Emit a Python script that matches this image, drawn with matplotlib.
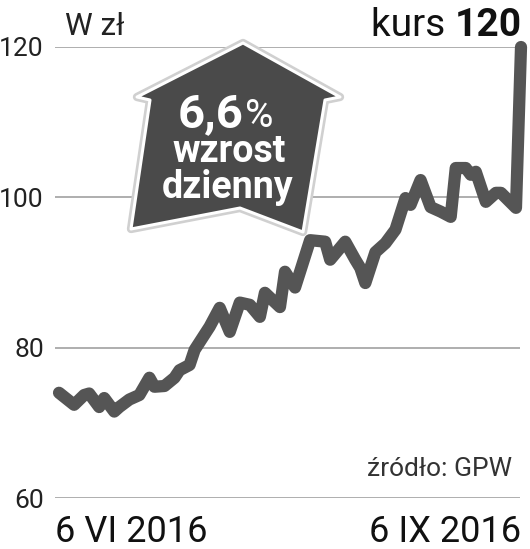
import matplotlib
matplotlib.use('Agg')
import matplotlib.pyplot as plt
from matplotlib.patches import Polygon

# kurs akcji, 6 VI - 6 IX 2016 (dni od 6 VI)
dni = [0, 3, 5, 6, 8, 9, 11, 12, 14, 16, 18, 19, 21, 23, 24, 26, 27, 30, 32,
       34, 36, 38, 40, 41, 44, 45, 47, 50, 53, 54, 57, 59, 60, 61, 63, 65, 67,
       69, 70, 72, 74, 76, 78, 79, 81, 82, 83, 85, 87, 88, 91, 92]
kurs = [74.0, 72.4, 73.7, 73.9, 72.1, 73.3, 71.5, 72.1, 73.1, 73.7, 76.0, 74.8,
        74.9, 76.0, 77.0, 77.7, 79.7, 82.8, 85.3, 82.1, 86.0, 85.7, 84.1, 87.3,
        85.4, 90.1, 88.0, 94.3, 94.1, 91.7, 94.1, 91.7, 90.6, 88.6, 92.7, 93.9,
        95.7, 99.9, 99.0, 102.3, 98.7, 98.1, 97.4, 103.9, 103.9, 103.0, 103.4,
        99.4, 100.6, 100.6, 98.6, 120.0]
yticks = [60, 80, 100, 120]

W, H = 530, 549
plt.rcParams['font.family'] = ['Roboto', 'DejaVu Sans']


def fx(px):
    return px / W


def fy(py):
    return 1 - py / H


fig = plt.figure(figsize=(5.30, 5.49), dpi=100)
ax = fig.add_axes([fx(55), fy(498), fx(520) - fx(55), fy(47) - fy(498)])
ax.set_xlim(-0.8, 91.8)
ax.set_ylim(60, 120)
for v in yticks:
    ax.axhline(v, color='#a8a8a8', lw=1.3, zorder=1)
ax.plot(dni, kurs, color='#555555', lw=8.8, solid_capstyle='round',
        solid_joinstyle='round', clip_on=False, zorder=3)
ax.set_yticks(yticks)
ax.set_yticklabels([str(v) for v in yticks], fontsize=19, color='#222222')
ax.tick_params(axis='y', length=0, pad=8)
ax.set_xticks([])
for s in ax.spines.values():
    s.set_visible(False)

# naglowki
fig.text(fx(65), fy(35), 'W zł', fontsize=22.5, color='#222222',
         va='baseline')
t120 = fig.text(fx(522), fy(36), '120', fontsize=28, fontweight='bold',
                color='#111111', ha='right', va='baseline')
tk = fig.text(fx(522), fy(36), 'kurs ', fontsize=28, color='#111111',
              ha='right', va='baseline')
fig.canvas.draw()
bb = t120.get_window_extent()
tk.set_x(bb.x0 / W)

fig.text(fx(55), fy(542), '6 VI 2016', fontsize=26, color='#111111',
         va='baseline')
fig.text(fx(521), fy(542), '6 IX 2016', fontsize=26, color='#111111',
         ha='right', va='baseline')
fig.text(fx(512), fy(476), 'źródło: GPW', fontsize=19, color='#333333',
         ha='right', va='baseline')

# strzalka
pts = [(243, 43), (340, 97), (325, 100), (303, 232), (240, 208),
       (131, 229), (150, 100), (137, 97)]
pts = [(fx(x), fy(y)) for x, y in pts]
fig.patches.append(Polygon(pts, closed=True, transform=fig.transFigure,
                           facecolor='none', edgecolor='#d0d0d0', lw=6,
                           joinstyle='round', zorder=4))
fig.patches.append(Polygon(pts, closed=True, transform=fig.transFigure,
                           facecolor='#4a4a4a', edgecolor='white', lw=2.2,
                           joinstyle='round', zorder=5))
fig.text(fx(244), fy(127), '6,6', fontsize=34, fontweight='bold',
         color='white', ha='right', va='baseline', zorder=6)
fig.text(fx(245), fy(127), '%', fontsize=28, color='white',
         ha='left', va='baseline', zorder=6)
fig.text(fx(229), fy(162), 'wzrost', fontsize=27, fontweight='bold',
         color='white', ha='center', va='baseline', zorder=6)
fig.text(fx(228), fy(198), 'dzienny', fontsize=27, fontweight='bold',
         color='white', ha='center', va='baseline', zorder=6)

fig.savefig('out.png', dpi=100)
